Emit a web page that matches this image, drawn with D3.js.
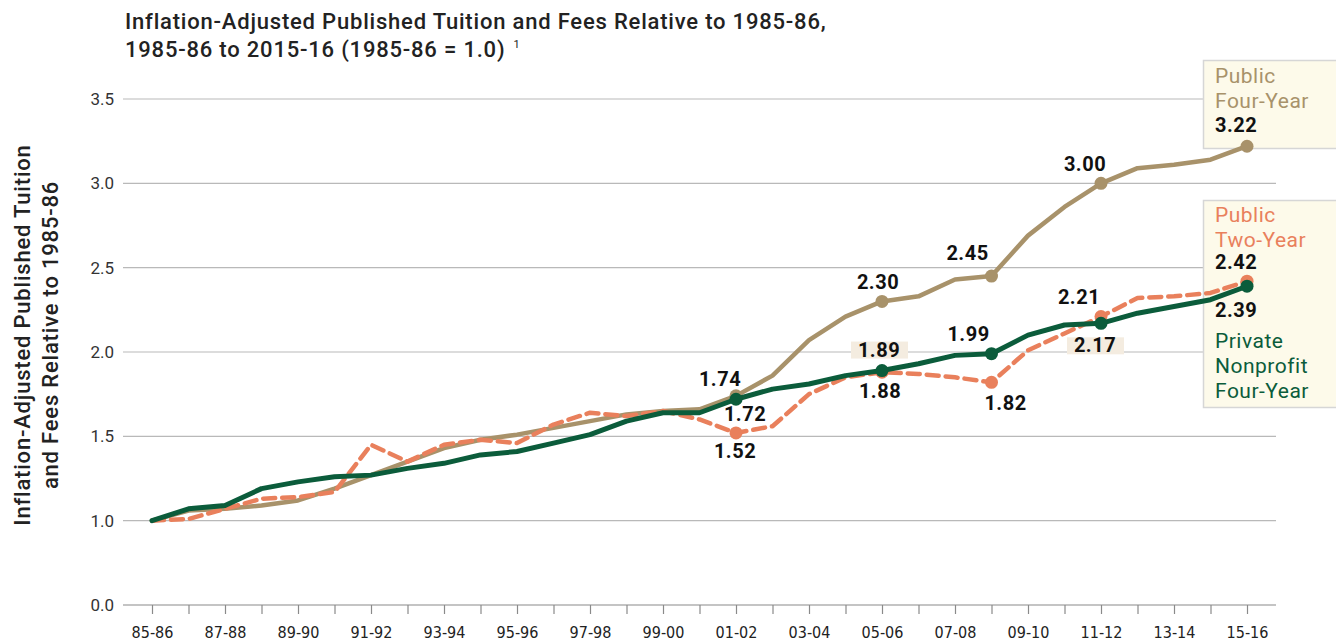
<!DOCTYPE html>
<html>
<head>
<meta charset="utf-8">
<script src="https://cdn.jsdelivr.net/npm/d3@7"></script>
<style>
  body { margin: 0; background: #fff; }
  svg { display: block; font-family: Roboto, "Noto Sans", sans-serif; }
  .xtick text { font-family: "Liberation Sans Narrow", "DejaVu Sans Condensed", Roboto, sans-serif; }
</style>
</head>
<body>
<svg id="chart" width="1336" height="641"></svg>
<script>
// school years, 1985-86 through 2015-16
const years = ['85-86', '86-87', '87-88', '88-89', '89-90', '90-91', '91-92', '92-93', '93-94', '94-95',
  '95-96', '96-97', '97-98', '98-99', '99-00', '00-01', '01-02', '02-03', '03-04', '04-05',
  '05-06', '06-07', '07-08', '08-09', '09-10', '10-11', '11-12', '12-13', '13-14', '14-15', '15-16'];

const publicFourYear = [1.00, 1.06, 1.07, 1.09, 1.12, 1.19, 1.27, 1.35, 1.43, 1.48,
  1.51, 1.55, 1.59, 1.63, 1.65, 1.66, 1.74, 1.86, 2.07, 2.21,
  2.30, 2.33, 2.43, 2.45, 2.69, 2.86, 3.00, 3.09, 3.11, 3.14, 3.22];

const publicTwoYear = [1.00, 1.01, 1.07, 1.13, 1.14, 1.17, 1.45, 1.35, 1.45, 1.48,
  1.46, 1.57, 1.64, 1.62, 1.65, 1.60, 1.52, 1.56, 1.75, 1.85,
  1.88, 1.87, 1.85, 1.82, 2.01, 2.11, 2.21, 2.32, 2.33, 2.35, 2.42];

const privateNonprofit = [1.00, 1.07, 1.09, 1.19, 1.23, 1.26, 1.27, 1.31, 1.34, 1.39,
  1.41, 1.46, 1.51, 1.59, 1.64, 1.64, 1.72, 1.78, 1.81, 1.86,
  1.89, 1.93, 1.98, 1.99, 2.10, 2.16, 2.17, 2.23, 2.27, 2.31, 2.39];

// y ticks: the axis is broken below 1.0, so the "0.0" line sits one step under 1.0
const yTickValues = [0.5, 1.0, 1.5, 2.0, 2.5, 3.0, 3.5];
const yTickLabels = ['0.0', '1.0', '1.5', '2.0', '2.5', '3.0', '3.5'];

// years that carry a marker and a value label
const markedYears = ['01-02', '05-06', '08-09', '11-12', '15-16'];

const colors = { four: '#a8926a', two: '#e9805c', priv: '#0b5c3b' };

const svg = d3.select('#chart');

const x = d3.scalePoint().domain(years).range([152, 1247]);
const y = d3.scaleLinear().domain([0.5, 3.5]).range([605, 99]);

// gridlines
svg.append('g')
  .selectAll('line')
  .data(yTickValues.slice(1))
  .enter().append('line')
  .attr('x1', 123).attr('x2', 1276)
  .attr('y1', d => y(d)).attr('y2', d => y(d))
  .attr('stroke', '#b9b9b9').attr('stroke-width', 1.2);

// y axis labels
svg.append('g')
  .selectAll('text')
  .data(yTickValues)
  .enter().append('text')
  .attr('x', 114)
  .attr('y', d => y(d) + 6)
  .attr('text-anchor', 'end')
  .style('font-size', '17px')
  .style('fill', '#333')
  .text((d, i) => yTickLabels[i]);

// x axis
const xAxis = d3.axisBottom(x)
  .tickSize(9)
  .tickFormat((d, i) => i % 2 === 0 ? d : '');
const gx = svg.append('g')
  .attr('class', 'xtick')
  .attr('transform', 'translate(0,605)')
  .call(xAxis);
gx.select('.domain').remove();
gx.append('line')
  .attr('x1', 123).attr('x2', 1276)
  .attr('stroke', '#8a8a8a').attr('stroke-width', 1.2);
gx.selectAll('.tick line').attr('stroke', '#8a8a8a').attr('stroke-width', 1.2);
gx.selectAll('.tick text')
  .attr('y', 22)
  .style('font-size', '16px')
  .style('fill', '#222');

// title
const title = svg.append('text')
  .attr('x', 125).attr('y', 29)
  .style('font-size', '22px').style('font-weight', 500).style('fill', '#222')
  .style('letter-spacing', '0.8px');
title.append('tspan').text('Inflation-Adjusted Published Tuition and Fees Relative to 1985-86,');
title.append('tspan').attr('x', 125).attr('dy', 28).text('1985-86 to 2015-16 (1985-86 = 1.0)');
title.append('tspan').attr('dx', 8).attr('dy', -9).style('font-size', '11px').style('font-weight', 400).text('1');

// y axis title
const yTitle = svg.append('text')
  .attr('transform', 'translate(30,335) rotate(-90)')
  .attr('text-anchor', 'middle')
  .style('font-size', '22px').style('font-weight', 500).style('fill', '#222')
  .style('letter-spacing', '0.8px');
yTitle.append('tspan').attr('x', 0).attr('y', 0).text('Inflation-Adjusted Published Tuition');
yTitle.append('tspan').attr('x', 0).attr('y', 28).text('and Fees Relative to 1985-86');

// legend boxes
svg.append('rect')
  .attr('x', 1203.5).attr('y', 60.5).attr('width', 140).attr('height', 88)
  .attr('fill', '#fdfaea').attr('stroke', '#d6d6d6').attr('stroke-width', 1.5);
svg.append('rect')
  .attr('x', 1203.5).attr('y', 200.5).attr('width', 140).attr('height', 207)
  .attr('fill', '#fdfaea').attr('stroke', '#d6d6d6').attr('stroke-width', 1.5);

// lines
const line = d3.line()
  .x((d, i) => x(years[i]))
  .y(d => y(d));

const series = [
  { key: 'four', values: publicFourYear, dash: null, width: 4.5 },
  { key: 'two', values: publicTwoYear, dash: '12,7', width: 4.5 },
  { key: 'priv', values: privateNonprofit, dash: null, width: 5 }
];

series.forEach(s => {
  svg.append('path')
    .datum(s.values)
    .attr('d', line)
    .attr('fill', 'none')
    .attr('stroke', colors[s.key])
    .attr('stroke-width', s.width)
    .attr('stroke-linejoin', 'round')
    .attr('stroke-linecap', 'round')
    .attr('stroke-dasharray', s.dash);
  svg.append('g')
    .selectAll('circle')
    .data(markedYears)
    .enter().append('circle')
    .attr('cx', d => x(d))
    .attr('cy', d => y(s.values[years.indexOf(d)]))
    .attr('r', 6.5)
    .attr('fill', colors[s.key]);
});

// value labels: [series values, year, dx, dy, background]
const labelSpecs = [
  [publicFourYear, '01-02', -16, -17, false],
  [publicFourYear, '05-06', -4, -19, false],
  [publicFourYear, '08-09', -24, -23, false],
  [publicFourYear, '11-12', -16, -19, false],
  [privateNonprofit, '01-02', 9, 15, false],
  [privateNonprofit, '05-06', -3, -21, true],
  [privateNonprofit, '08-09', -23, -20, false],
  [privateNonprofit, '11-12', -6, 22, true],
  [publicTwoYear, '01-02', -1, 18, false],
  [publicTwoYear, '05-06', -2, 19, false],
  [publicTwoYear, '08-09', 14, 21, false],
  [publicTwoYear, '11-12', -22, -20, false]
];

const labels = svg.append('g');
labelSpecs.forEach(([vals, yr, dx, dy, bg]) => {
  const v = vals[years.indexOf(yr)];
  const cx = x(yr) + dx;
  const cy = y(v) + dy;
  if (bg) {
    labels.append('rect')
      .attr('x', cx - 28).attr('y', cy - 8)
      .attr('width', 57).attr('height', 17)
      .attr('fill', '#f4ece0');
  }
  labels.append('text')
    .attr('x', cx).attr('y', cy + 7)
    .attr('text-anchor', 'middle')
    .style('font-size', '20px').style('font-weight', 700).style('fill', '#111')
    .style('letter-spacing', '0.5px')
    .text(d3.format('.2f')(v));
});

// legend text
const legendText = [
  { lines: ['Public', 'Four-Year'], color: colors.four, y: 83 },
  { lines: ['Public', 'Two-Year'], color: colors.two, y: 222 },
  { lines: ['Private', 'Nonprofit', 'Four-Year'], color: colors.priv, y: 348 }
];
legendText.forEach(l => {
  l.lines.forEach((t, i) => {
    svg.append('text')
      .attr('x', 1215).attr('y', l.y + i * 25)
      .style('font-size', '21px').style('font-weight', 400).style('fill', l.color)
      .style('letter-spacing', '0.5px')
      .text(t);
  });
});
const last = years.length - 1;
[[publicFourYear[last], 132], [publicTwoYear[last], 269], [privateNonprofit[last], 317]].forEach(([v, yy]) => {
  svg.append('text')
    .attr('x', 1215).attr('y', yy)
    .style('font-size', '20px').style('font-weight', 700).style('fill', '#111')
    .style('letter-spacing', '0.5px')
    .text(d3.format('.2f')(v));
});
</script>
</body>
</html>
